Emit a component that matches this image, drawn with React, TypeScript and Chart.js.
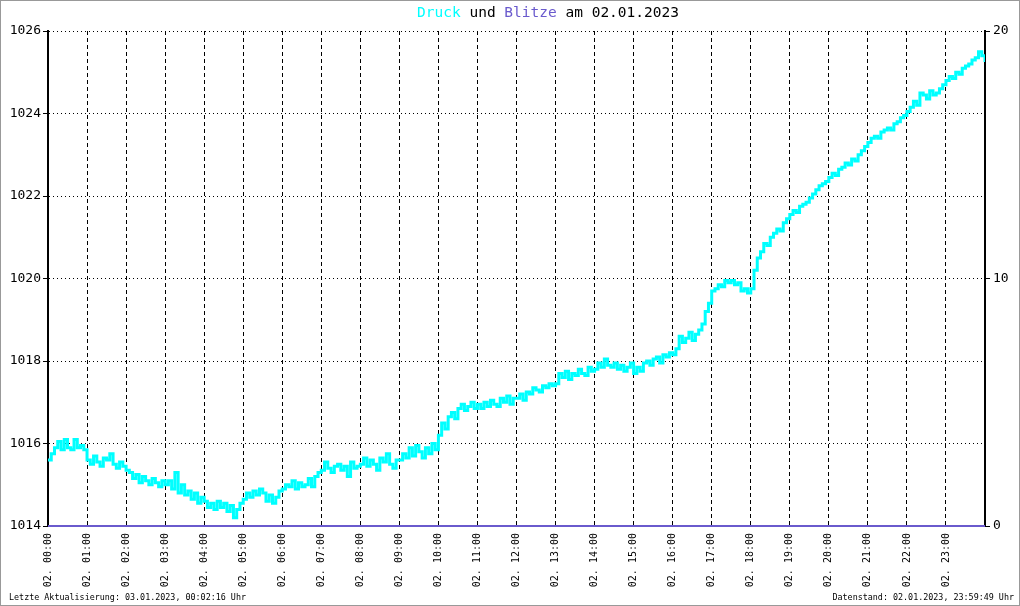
import React, { useEffect, useRef } from "react";
import { Chart, registerables } from "chart.js";

Chart.register(...registerables);

// Pressure (hPa), 5-minute readings from 00:00 to 24:00 on 02.01.2023
const pressure: number[] = [
  1015.6, 1015.75, 1015.9, 1016.05, 1015.85, 1016.1, 1015.9, 1015.85, 1016.1, 1015.9, 1015.95, 1015.85,
  1015.6, 1015.5, 1015.7, 1015.55, 1015.45, 1015.65, 1015.6, 1015.75, 1015.5, 1015.4, 1015.55, 1015.45,
  1015.35, 1015.3, 1015.15, 1015.25, 1015.05, 1015.2, 1015.1, 1015.0, 1015.15, 1015.05, 1014.95, 1015.1,
  1015.0, 1015.1, 1014.9, 1015.3, 1014.8, 1015.0, 1014.75, 1014.85, 1014.65, 1014.8, 1014.55, 1014.7,
  1014.6, 1014.45, 1014.55, 1014.4, 1014.6, 1014.45, 1014.55, 1014.35, 1014.5, 1014.2, 1014.4, 1014.55,
  1014.65, 1014.8, 1014.7, 1014.85, 1014.75, 1014.9, 1014.8, 1014.6, 1014.75, 1014.55, 1014.7, 1014.85,
  1014.9, 1015.0, 1014.95, 1015.1, 1014.9, 1015.05, 1014.95, 1015.0, 1015.15, 1014.95, 1015.2, 1015.3,
  1015.35, 1015.55, 1015.4, 1015.3, 1015.45, 1015.5, 1015.35, 1015.45, 1015.2, 1015.55, 1015.4, 1015.45,
  1015.5, 1015.65, 1015.45, 1015.6, 1015.5, 1015.35, 1015.65, 1015.55, 1015.75, 1015.5, 1015.4, 1015.6,
  1015.6, 1015.75, 1015.65, 1015.9, 1015.7, 1015.95, 1015.8, 1015.65, 1015.9, 1015.75, 1016.0, 1015.85,
  1016.2, 1016.5, 1016.35, 1016.65, 1016.75, 1016.6, 1016.85, 1016.95, 1016.8, 1016.9, 1017.0, 1016.85,
  1016.95, 1016.85, 1017.0, 1016.9, 1017.05, 1016.95, 1016.9, 1017.1, 1017.0, 1017.15, 1016.95, 1017.1,
  1017.1, 1017.2, 1017.05, 1017.25, 1017.2, 1017.35, 1017.3, 1017.25, 1017.4, 1017.35, 1017.45, 1017.4,
  1017.45, 1017.7, 1017.6, 1017.75, 1017.55, 1017.7, 1017.65, 1017.8, 1017.7, 1017.65, 1017.85, 1017.75,
  1017.8, 1017.95, 1017.85, 1018.05, 1017.9, 1017.85, 1017.95, 1017.8, 1017.9, 1017.75, 1017.85, 1017.95,
  1017.7, 1017.85, 1017.75, 1017.95, 1018.0, 1017.9, 1018.05, 1018.1, 1017.95, 1018.15, 1018.1, 1018.2,
  1018.15, 1018.3, 1018.6, 1018.45, 1018.55, 1018.7, 1018.5, 1018.65, 1018.75, 1018.9, 1019.2, 1019.4,
  1019.7, 1019.75, 1019.85, 1019.8, 1019.95, 1019.9, 1019.95, 1019.85, 1019.9, 1019.7, 1019.75, 1019.65,
  1019.75, 1020.2, 1020.5, 1020.65, 1020.85, 1020.8, 1021.0, 1021.1, 1021.2, 1021.15, 1021.35, 1021.45,
  1021.55, 1021.65, 1021.6, 1021.75, 1021.8, 1021.85, 1021.95, 1022.05, 1022.15, 1022.25, 1022.3, 1022.35,
  1022.45, 1022.55, 1022.5, 1022.65, 1022.7, 1022.8, 1022.75, 1022.9, 1022.85, 1023.0, 1023.1, 1023.2,
  1023.3, 1023.4, 1023.45, 1023.4, 1023.55, 1023.6, 1023.65, 1023.6, 1023.75, 1023.8, 1023.9, 1023.95,
  1024.05, 1024.15, 1024.3, 1024.2, 1024.5, 1024.45, 1024.35, 1024.55, 1024.45, 1024.5, 1024.6, 1024.7,
  1024.8, 1024.9, 1024.85, 1025.0, 1024.95, 1025.1, 1025.15, 1025.2, 1025.3, 1025.35, 1025.5, 1025.4,
  1025.25,
];

// Lightning count (right axis), all zero
const blitze: number[] = pressure.map(() => 0);

const stepMinutes = 5;
const hourLabels: string[] = [
  "00", "01", "02", "03", "04", "05", "06", "07", "08", "09", "10", "11",
  "12", "13", "14", "15", "16", "17", "18", "19", "20", "21", "22", "23",
];
const titleParts: { text: string; color: string }[] = [
  { text: "Druck", color: "#00ffff" },
  { text: " und ", color: "#000000" },
  { text: "Blitze", color: "#6a5acd" },
  { text: " am 02.01.2023", color: "#000000" },
];
const footLeft = "Letzte Aktualisierung: 03.01.2023, 00:02:16 Uhr";
const footRight = "Datenstand: 02.01.2023, 23:59:49 Uhr";

const MONO = "'DejaVu Sans Mono', monospace";

const decorPlugin = {
  id: "decor",
  afterDraw(chart: any) {
    const ctx = chart.ctx as CanvasRenderingContext2D;
    ctx.save();
    ctx.strokeStyle = "#999999";
    ctx.lineWidth = 1;
    ctx.strokeRect(0.5, 0.5, chart.width - 1, chart.height - 1);
    ctx.font = `14.5px ${MONO}`;
    ctx.textBaseline = "middle";
    ctx.textAlign = "left";
    const total = titleParts.reduce((s, p) => s + ctx.measureText(p.text).width, 0);
    let x = 548 - total / 2;
    for (const p of titleParts) {
      ctx.fillStyle = p.color;
      ctx.fillText(p.text, x, 13);
      x += ctx.measureText(p.text).width;
    }
    ctx.font = `8.4px ${MONO}`;
    ctx.fillStyle = "#000";
    ctx.textAlign = "left";
    ctx.fillText(footLeft, 9, 598);
    ctx.textAlign = "right";
    ctx.fillText(footRight, 1014, 598);
    ctx.restore();
  },
};

export default function App() {
  const ref = useRef<HTMLCanvasElement | null>(null);
  useEffect(() => {
    document.body.style.margin = "0";
    const canvas = ref.current!;
    const chart = new Chart(canvas, {
      type: "line",
      data: {
        datasets: [
          {
            label: "Druck",
            data: pressure.map((v, i) => ({ x: i * stepMinutes, y: v })),
            borderColor: "#00ffff",
            backgroundColor: "#00ffff",
            borderWidth: 3,
            pointRadius: 0,
            stepped: true,
            yAxisID: "y",
          },
          {
            label: "Blitze",
            data: blitze.map((v, i) => ({ x: i * stepMinutes, y: v })),
            borderColor: "#6a5acd",
            backgroundColor: "#6a5acd",
            borderWidth: 2,
            pointRadius: 0,
            clip: false,
            yAxisID: "y1",
          },
        ],
      },
      options: {
        responsive: false,
        animation: false,
        layout: { padding: { top: 31, left: 0, right: 0, bottom: 0 } },
        plugins: {
          legend: { display: false },
          tooltip: { enabled: false },
          title: { display: false },
        },
        scales: {
          x: {
            type: "linear",
            min: 0,
            max: 1440,
            afterFit: (s: any) => { s.height = 80; },
            afterBuildTicks: (s: any) => {
              s.ticks = hourLabels.map((_, i) => ({ value: i * 60 })).concat([{ value: 1440 }]);
            },
            grid: {
              color: "#000",
              lineWidth: 1,
              drawTicks: false,
            },
            border: { display: true, color: "#000", width: 2, dash: [4, 3] },
            ticks: {
              autoSkip: false,
              maxRotation: 90,
              minRotation: 90,
              padding: 7,
              color: "#000",
              font: { family: MONO, size: 10 },
              callback: (v: any) => {
                const h = Math.round(Number(v) / 60);
                return h < 24 ? `02. ${hourLabels[h]}:00` : "";
              },
            },
          },
          y: {
            position: "left",
            min: 1014,
            max: 1026,
            afterFit: (s: any) => { s.width = 48; },
            grid: {
              color: "#000",
              lineWidth: 1,
              tickLength: 5,
              tickColor: "#000",
              tickBorderDash: [],
            },
            border: { display: true, color: "#000", width: 2, dash: [1, 3] },
            ticks: {
              stepSize: 2,
              padding: 2,
              color: "#000",
              font: { family: MONO, size: 13 },
              callback: (v: any) => String(v),
            },
          },
          y1: {
            position: "right",
            min: 0,
            max: 20,
            afterFit: (s: any) => { s.width = 35; },
            grid: {
              drawOnChartArea: false,
              tickLength: 5,
              tickColor: "#000",
              color: "#000",
            },
            border: { display: true, color: "#000", width: 2 },
            ticks: {
              stepSize: 10,
              padding: 3,
              color: "#000",
              font: { family: MONO, size: 13 },
            },
          },
        },
      },
      plugins: [decorPlugin],
    });
    return () => chart.destroy();
  }, []);
  return (
    <div style={{ width: 1020, height: 606, background: "#fff" }}>
      <canvas ref={ref} width={1020} height={606} style={{ display: "block" }} />
    </div>
  );
}
